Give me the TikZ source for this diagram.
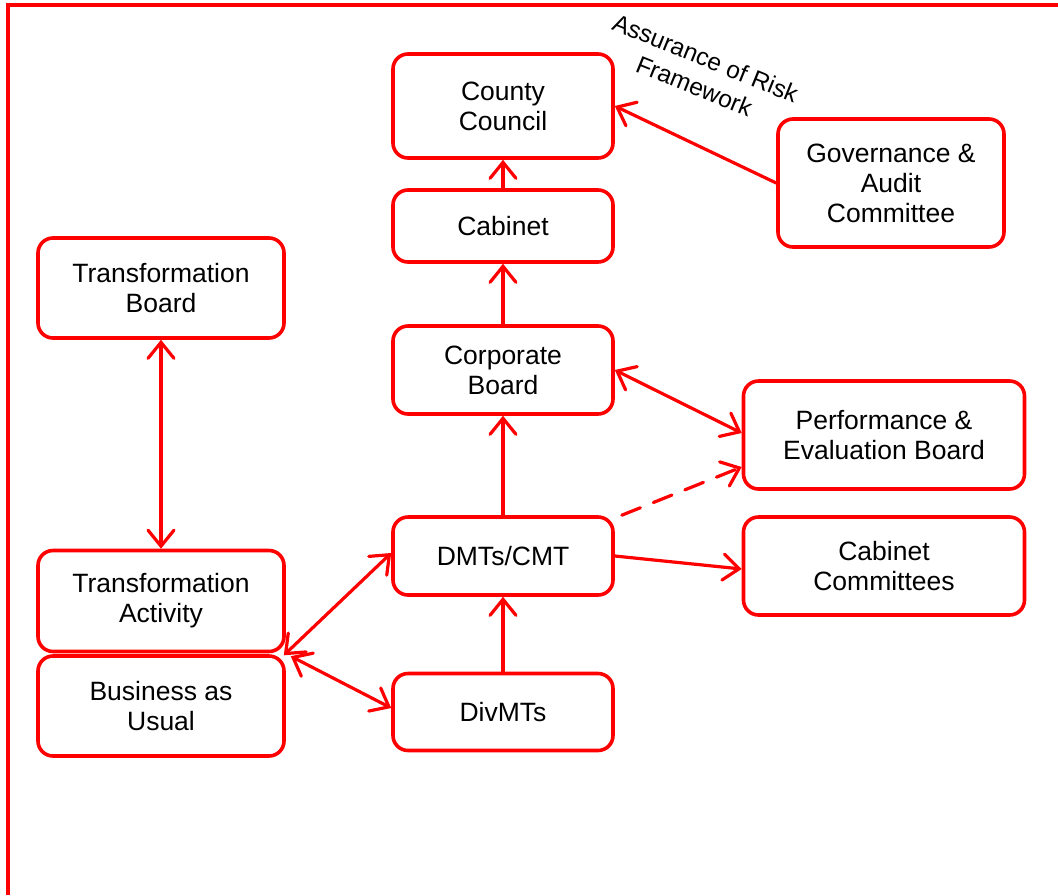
\documentclass[tikz,border=0pt]{standalone}
\usepackage{fontspec}
\setmainfont{Liberation Sans}
\usetikzlibrary{arrows.meta,calc}
\definecolor{orgred}{RGB}{255,0,0}
\tikzset{
  orgbox/.style={draw=orgred, line width=3.6pt, rounded corners=15pt, fill=white,
    align=center, inner sep=0pt, font=\fontsize{26.5}{30}\selectfont},
  barb/.tip={Straight Barb[length=16pt,width=26pt,line cap=round]},
  link/.style={draw=orgred, line width=3.2pt, line cap=round, arrows={-barb}},
  dlink/.style={link, arrows={barb-barb}},
}
\begin{document}
\begin{tikzpicture}[x=1pt,y=-1pt]
\useasboundingbox (0,0) rectangle (1058,895);
% frame along the top and left edges
\draw[orgred, line width=4pt] (8,895) -- (8,5) -- (1058,5);

% boxes
\node[orgbox, minimum width=220pt, minimum height=104pt] (council) at (503,106) {County\\Council};
\node[orgbox, minimum width=220pt, minimum height=72pt] (cabinet) at (503,226) {Cabinet};
\node[orgbox, minimum width=226pt, minimum height=128pt] (gov) at (891,183) {Governance \&\\Audit\\Committee};
\node[orgbox, minimum width=246pt, minimum height=100pt] (tboard) at (161,288) {Transformation\\Board};
\node[orgbox, minimum width=220pt, minimum height=88pt] (corp) at (503,370) {Corporate\\Board};
\node[orgbox, minimum width=281pt, minimum height=108pt] (perf) at (884,435) {Performance \&\\Evaluation Board};
\node[orgbox, minimum width=220pt, minimum height=78pt] (dmt) at (503,556) {DMTs/CMT};
\node[orgbox, minimum width=281pt, minimum height=98pt] (ccom) at (884,566) {Cabinet\\Committees};
\node[orgbox, minimum width=246pt, minimum height=101pt] (tact) at (161,601) {Transformation\\Activity};
\node[orgbox, minimum width=246pt, minimum height=100pt] (bau) at (161,706) {Business as\\Usual};
\node[orgbox, minimum width=220pt, minimum height=77pt] (div) at (503,712) {DivMTs};

% connectors
\draw[link] (cabinet.north) -- (council.south);
\draw[link] (corp.north) -- (cabinet.south);
\draw[link] (dmt.north) -- (corp.south);
\draw[link] (div.north) -- (dmt.south);
\draw[link] (gov.west) -- (council.east);
\draw[dlink] (tboard.south) -- (tact.north);
\draw[dlink] ($(tact.south east)+(-2,2)$) -- ($(dmt.west)+(0,-3)$);
\draw[dlink] ($(bau.north east)+(5,2)$) -- ($(div.west)+(0,-4)$);
\draw[dlink] (corp.east) -- ($(perf.west)+(0,-2)$);
\draw[link, dash pattern=on 20pt off 14pt] ($(dmt.north east)+(7,0)$) -- ($(perf.west)+(0,32)$);
\draw[link] (dmt.east) -- ($(ccom.west)+(0,3)$);

% label on the assurance line
\node[rotate=-22, align=center, font=\fontsize{24.5}{30}\selectfont] (risklbl) at (700,72) {Assurance of Risk\\Framework};
\end{tikzpicture}
\end{document}
